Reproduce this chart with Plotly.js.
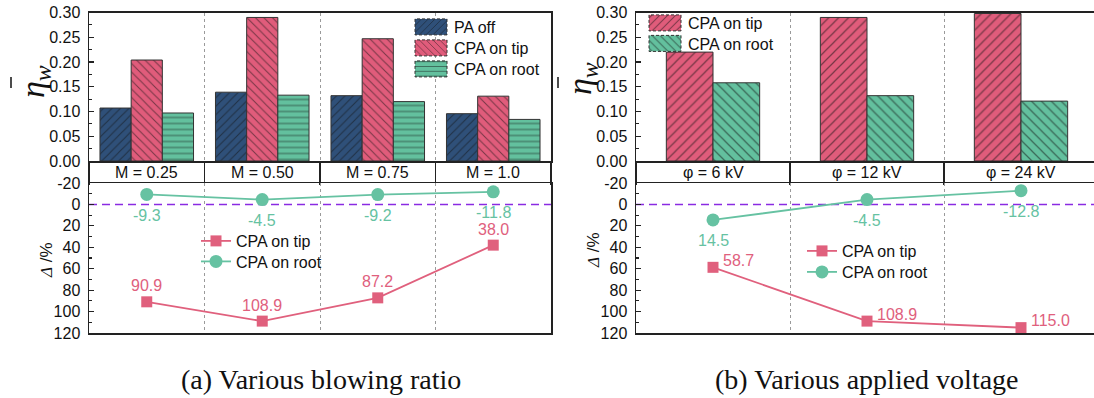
<!DOCTYPE html>
<html>
<head>
<meta charset="utf-8">
<script src="https://cdn.plot.ly/plotly-3.0.1.min.js"></script>
<style>
  html, body { margin: 0; padding: 0; background: #fff; }
  #chart { width: 1094px; height: 398px; }
</style>
</head>
<body>
<div id="chart"></div>
<script>
// (a) blowing ratio sweep
const blowCats = ['M = 0.25', 'M = 0.50', 'M = 0.75', 'M = 1.0'];
const paOffBlow = [0.107, 0.139, 0.132, 0.0956];
const tipBlow = [0.204, 0.290, 0.247, 0.131];
const rootBlow = [0.097, 0.133, 0.120, 0.084];
const tipBlowDelta = [90.9, 108.9, 87.2, 38.0];
const rootBlowDelta = [-9.3, -4.5, -9.2, -11.8];

// (b) applied voltage sweep
const voltCats = ['φ = 6 kV', 'φ = 12 kV', 'φ = 24 kV'];
const tipVolt = [0.220, 0.290, 0.298];
const rootVolt = [0.158, 0.132, 0.121];
const tipVoltDelta = [58.7, 108.9, 115.0];
const rootVoltDelta = [14.5, -4.5, -12.8];

// axis ticks for the relative-change panels
const deltaTicks = [-20, 0, 20, 40, 60, 80, 100, 120];
const deltaTickText = deltaTicks.map(String);

const captions = ['(a) Various blowing ratio', '(b) Various applied voltage'];

const NAVY = '#2F5079', PINK = '#E05C7B', GREEN = '#63C09E';
const LINE_PINK = '#E0607D', LINE_GREEN = '#66C2A2';
const AX = '#222';
const FONT = 'Liberation Sans, Arial, sans-serif';
const SERIF = 'Liberation Serif, Times New Roman, serif';
const fmt = v => v.toFixed(1);

function hatch(shape, size) {
  return { shape: shape, fgcolor: '#111', size: size, solidity: 0.18, fillmode: 'overlay' };
}
const barLine = { color: '#333', width: 1 };

const data = [
  // left bars
  { type: 'bar', x: blowCats, y: paOffBlow, name: 'PA off', xaxis: 'x', yaxis: 'y', legend: 'legend',
    marker: { color: NAVY, line: barLine, pattern: hatch('/', 6) } },
  { type: 'bar', x: blowCats, y: tipBlow, name: 'CPA on tip', xaxis: 'x', yaxis: 'y', legend: 'legend',
    marker: { color: PINK, line: barLine, pattern: hatch('\\', 6) } },
  { type: 'bar', x: blowCats, y: rootBlow, name: 'CPA on root', xaxis: 'x', yaxis: 'y', legend: 'legend',
    marker: { color: GREEN, line: barLine, pattern: hatch('-', 6) } },
  // left relative change
  { type: 'scatter', mode: 'lines+markers', x: blowCats, y: tipBlowDelta, name: 'CPA on tip',
    xaxis: 'x2', yaxis: 'y2', legend: 'legend2', cliponaxis: false,
    line: { color: LINE_PINK, width: 1.8 }, marker: { symbol: 'square', size: 11, color: LINE_PINK } },
  { type: 'scatter', mode: 'lines+markers', x: blowCats, y: rootBlowDelta, name: 'CPA on root',
    xaxis: 'x2', yaxis: 'y2', legend: 'legend2', cliponaxis: false,
    line: { color: LINE_GREEN, width: 1.8 }, marker: { symbol: 'circle', size: 13, color: LINE_GREEN } },
  // right bars
  { type: 'bar', x: voltCats, y: tipVolt, name: 'CPA on tip', xaxis: 'x3', yaxis: 'y3', legend: 'legend3',
    width: 0.303, offset: -0.303,
    marker: { color: PINK, line: barLine, pattern: hatch('/', 7) } },
  { type: 'bar', x: voltCats, y: rootVolt, name: 'CPA on root', xaxis: 'x3', yaxis: 'y3', legend: 'legend3',
    width: 0.303, offset: 0,
    marker: { color: GREEN, line: barLine, pattern: hatch('\\', 7) } },
  // right relative change
  { type: 'scatter', mode: 'lines+markers', x: voltCats, y: tipVoltDelta, name: 'CPA on tip',
    xaxis: 'x4', yaxis: 'y4', legend: 'legend4', cliponaxis: false,
    line: { color: LINE_PINK, width: 1.8 }, marker: { symbol: 'square', size: 11, color: LINE_PINK } },
  { type: 'scatter', mode: 'lines+markers', x: voltCats, y: rootVoltDelta, name: 'CPA on root',
    xaxis: 'x4', yaxis: 'y4', legend: 'legend4', cliponaxis: false,
    line: { color: LINE_GREEN, width: 1.8 }, marker: { symbol: 'circle', size: 13, color: LINE_GREEN } }
];

const W = 1094, H = 398;
const px = v => v / W, py = v => (H - v) / H;
const xL = [px(89), px(551)], xR = [px(636), 1];
const yBar = [py(161), py(12.5)], yLine = [py(333), py(183)];

function barX(domain, anchor, range) {
  return { domain: domain, anchor: anchor, type: 'category', range: range,
    showline: true, linecolor: AX, linewidth: 1.5, mirror: true,
    ticks: 'outside', ticklen: 22, tickwidth: 1.5, tickcolor: AX, tickson: 'boundaries',
    showticklabels: false, showgrid: true, griddash: 'dot', gridcolor: '#9a9a9a', gridwidth: 1,
    zeroline: false };
}
function lineX(domain, anchor, range) {
  return { domain: domain, anchor: anchor, type: 'category', range: range,
    showline: true, linecolor: AX, linewidth: 1.5, mirror: true,
    ticks: '', tickson: 'boundaries', showticklabels: false,
    showgrid: true, griddash: 'dot', gridcolor: '#9a9a9a', gridwidth: 1, zeroline: false };
}
function barY(domain, anchor, mirror) {
  return { domain: domain, anchor: anchor, range: [0, 0.30], dtick: 0.05, tick0: 0, tickformat: '.2f',
    showline: true, linecolor: AX, linewidth: 1.5, mirror: mirror,
    ticks: 'inside', ticklen: 5, tickwidth: 1.2, tickcolor: AX, ticklabelstandoff: 4,
    minor: { dtick: 0.025, tick0: 0, ticks: 'inside', ticklen: 3, tickcolor: AX, showgrid: false },
    showgrid: false, zeroline: false, tickfont: { size: 16, family: FONT, color: '#111' } };
}
function lineY(domain, anchor, mirror) {
  return { domain: domain, anchor: anchor, range: [120, -20], tickmode: 'array',
    tickvals: deltaTicks, ticktext: deltaTickText,
    showline: true, linecolor: AX, linewidth: 1.5, mirror: mirror,
    ticks: 'inside', ticklen: 5, tickwidth: 1.2, tickcolor: AX, ticklabelstandoff: 4,
    minor: { dtick: 10, tick0: 0, ticks: 'inside', ticklen: 3, tickcolor: AX, showgrid: false },
    showgrid: false, zeroline: false, tickfont: { size: 16, family: FONT, color: '#111' } };
}

const stripY = py(172);
const annotations = [];
const txt = (size, color, family) => ({ size: size, color: color || '#111', family: family || FONT });

// category names in the strip under each bar panel
blowCats.forEach(c => annotations.push({ text: c, x: c, xref: 'x', y: stripY, yref: 'paper',
  xanchor: 'center', yanchor: 'middle', showarrow: false, font: txt(16) }));
voltCats.forEach(c => annotations.push({ text: c, x: c, xref: 'x3', y: stripY, yref: 'paper',
  xanchor: 'center', yanchor: 'middle', showarrow: false, font: txt(16) }));

// value labels on the relative-change points
function valueLabels(cats, vals, xr, yr, color, opts) {
  cats.forEach((c, i) => annotations.push(Object.assign({
    text: fmt(vals[i]), x: c, y: vals[i], xref: xr, yref: yr, showarrow: false,
    yanchor: 'middle', font: txt(16, color) }, opts)));
}
valueLabels(blowCats, tipBlowDelta, 'x2', 'y2', LINE_PINK, { xanchor: 'center', yshift: 16 });
valueLabels(blowCats, rootBlowDelta, 'x2', 'y2', LINE_GREEN, { xanchor: 'center', yshift: -21 });
valueLabels(voltCats, tipVoltDelta, 'x4', 'y4', LINE_PINK, { xanchor: 'left', xshift: 8, yshift: 7 });
valueLabels(voltCats, rootVoltDelta, 'x4', 'y4', LINE_GREEN, { xanchor: 'center', yshift: -21 });

// axis titles: mean efficiency (eta with overbar, subscript w) and relative change
const etaTitle = '<i>η</i><sub><i>w</i></sub>';
const deltaTitle = '<span style="font-family:Liberation Serif"><i>Δ</i></span> /%';
annotations.push({ text: etaTitle, x: px(35), y: py(82), xref: 'paper', yref: 'paper', textangle: -90,
  xanchor: 'center', yanchor: 'middle', showarrow: false, font: txt(34, '#111', SERIF) });
annotations.push({ text: etaTitle, x: px(582), y: py(78), xref: 'paper', yref: 'paper', textangle: -90,
  xanchor: 'center', yanchor: 'middle', showarrow: false, font: txt(34, '#111', SERIF) });
annotations.push({ text: deltaTitle, x: px(46), y: py(260), xref: 'paper', yref: 'paper', textangle: -90,
  xanchor: 'center', yanchor: 'middle', showarrow: false, font: txt(17) });
annotations.push({ text: deltaTitle, x: px(594), y: py(250), xref: 'paper', yref: 'paper', textangle: -90,
  xanchor: 'center', yanchor: 'middle', showarrow: false, font: txt(17) });

// captions
annotations.push({ text: captions[0], x: px(321), y: py(379), xref: 'paper', yref: 'paper',
  xanchor: 'center', yanchor: 'middle', showarrow: false, font: txt(28, '#111', SERIF) });
annotations.push({ text: captions[1], x: px(867), y: py(379), xref: 'paper', yref: 'paper',
  xanchor: 'center', yanchor: 'middle', showarrow: false, font: txt(28, '#111', SERIF) });

const zeroLine = (xr, yr) => ({ type: 'line', xref: xr + ' domain', x0: 0, x1: 1, yref: yr, y0: 0, y1: 0,
  line: { color: '#8A2BE2', width: 1.5, dash: '8px,5px' }, layer: 'below' });
// overbar of the rotated eta symbol
const overbar = (x, yTop, yBot) => ({ type: 'line', xref: 'paper', yref: 'paper',
  x0: px(x), x1: px(x), y0: py(yTop), y1: py(yBot), line: { color: '#111', width: 1.5 } });

const legendBase = { bgcolor: 'rgba(0,0,0,0)', borderwidth: 0, xanchor: 'left', yanchor: 'top',
  font: { size: 16, family: FONT, color: '#111' }, tracegroupgap: 0 };

const layout = {
  width: W, height: H,
  margin: { l: 0, r: 0, t: 0, b: 0 },
  paper_bgcolor: '#fff', plot_bgcolor: 'rgba(0,0,0,0)',
  font: { family: FONT, size: 16, color: '#111' },
  barmode: 'group', bargap: 0.19, bargroupgap: 0,
  showlegend: true,
  xaxis: barX(xL, 'y', [-0.5, 3.5]),
  yaxis: barY(yBar, 'x', true),
  xaxis2: lineX(xL, 'y2', [-0.5, 3.5]),
  yaxis2: lineY(yLine, 'x2', true),
  xaxis3: barX(xR, 'y3', [-0.5, 2.474]),
  yaxis3: barY(yBar, 'x3', false),
  xaxis4: lineX(xR, 'y4', [-0.5, 2.474]),
  yaxis4: lineY(yLine, 'x4', false),
  legend: Object.assign({}, legendBase, { x: px(414), y: py(10) }),
  legend2: Object.assign({}, legendBase, { x: px(196), y: py(224) }),
  legend3: Object.assign({}, legendBase, { x: px(648), y: py(6) }),
  legend4: Object.assign({}, legendBase, { x: px(802), y: py(234) }),
  shapes: [zeroLine('x2', 'y2'), zeroLine('x4', 'y4'), overbar(11, 77, 88), overbar(558, 77, 88)],
  annotations: annotations
};

// wider hatched swatches in the bar legends
function widenSwatches(gd) {
  gd.querySelectorAll('g.legendpoints path').forEach(p => {
    const d = p.getAttribute('d') || '';
    if (d.indexOf('M6,6H-6V-6H6Z') === 0 || p.classList.contains('legendbar')) {
      p.setAttribute('d', 'M13,8H-19V-8H13Z');
      p.style.strokeDasharray = '3,2';
    }
  });
}
// tighter row pitch inside each legend
const rowPitch = { legend: 21, legend2: 20.5, legend3: 20.5, legend4: 21 };
function tightenLegends(gd) {
  Object.keys(rowPitch).forEach(cls => {
    const g = gd.querySelector('g.infolayer > g.' + cls);
    if (!g) return;
    const items = Array.from(g.querySelectorAll('g.traces'));
    if (!items.length) return;
    const parse = el => {
      const m = /translate\(\s*([-\d.e]+)[ ,]+([-\d.e]+)\s*\)/.exec(el.getAttribute('transform') || '');
      return m ? [parseFloat(m[1]), parseFloat(m[2])] : [0, 0];
    };
    if (!g.dataset.y0) g.dataset.y0 = parse(items[0])[1];
    const y0 = parseFloat(g.dataset.y0);
    items.forEach((el, i) => {
      const t = parse(el);
      el.setAttribute('transform', 'translate(' + t[0] + ',' + (y0 + i * rowPitch[cls]) + ')');
    });
  });
}
function finish(gd) { widenSwatches(gd); tightenLegends(gd); }

Plotly.newPlot('chart', data, layout, { staticPlot: true, displayModeBar: false }).then(gd => {
  finish(gd);
  gd.on('plotly_afterplot', () => finish(gd));
});
</script>
</body>
</html>
